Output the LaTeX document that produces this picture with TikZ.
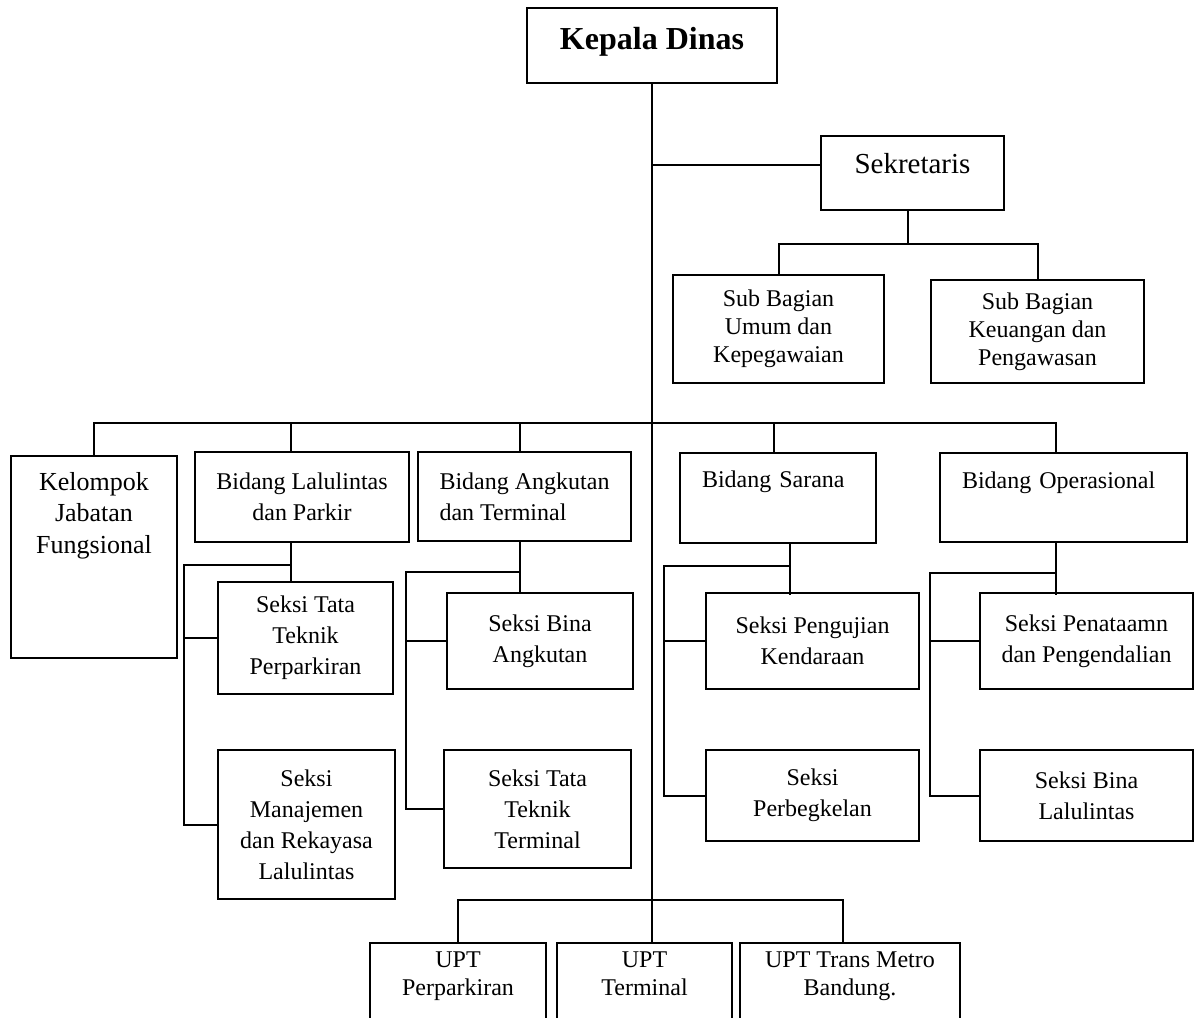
\documentclass[tikz,border=0pt]{standalone}
\usepackage{fontspec}
\setmainfont{Liberation Serif}
\usetikzlibrary{calc}

\tikzset{
  unit/.style={draw,line width=1pt,rectangle,inner sep=0pt,align=center,font=\fontsize{12}{15.5}\selectfont},
  link/.style={line width=1pt},
}

\begin{document}
\begin{tikzpicture}[x=0.5pt,y=-0.5pt]
  \useasboundingbox(0,0) rectangle (1195,1018);
  \clip(0,0) rectangle (1195,1018);
  % head and secretary
  \node[unit,anchor=north,minimum width=125pt,text height=20.5pt,text depth=17pt,font=\fontsize{16}{19}\selectfont\bfseries](kadis) at(652,7){Kepala Dinas};
  \node[unit,anchor=north,minimum width=91.5pt,text height=18.75pt,text depth=18.25pt,font=\fontsize{14.5}{17}\selectfont](sekre) at(912.5,135){Sekretaris};
  \node[unit,minimum width=105.5pt,minimum height=54pt,font=\fontsize{12}{14}\selectfont](subum) at(778.5,329){Sub Bagian\\Umum dan\\Kepegawaian};
  \node[unit,minimum width=106.5pt,minimum height=51.5pt,font=\fontsize{12}{14}\selectfont](subkeu) at(1037.5,331.5){Sub Bagian\\Keuangan dan\\Pengawasan};
  % bidang row
  \node[unit,anchor=north,minimum width=83pt,text height=48.5pt,text depth=52.5pt,font=\fontsize{13}{15.75}\selectfont](kjf) at(94,455){Kelompok\\Jabatan\\Fungsional};
  \node[unit,minimum width=107pt,minimum height=45pt](blp) at(302,497){Bidang Lalulintas\\dan Parkir};
  \node[unit,align=left,minimum width=106.5pt,minimum height=44.5pt](bat) at(524.5,496.5){Bidang Angkutan\\dan Terminal};
  \node[unit,align=left,anchor=north,inner xsep=11pt,text width=76pt,text height=17pt,text depth=28pt](bs) at(778,452){Bidang Sarana};
  \node[unit,align=left,anchor=north,inner xsep=11pt,text width=101.5pt,text height=17.5pt,text depth=27pt](bo) at(1063.5,452){Bidang Operasional};
  % seksi boxes
  \node[unit,minimum width=87.5pt,minimum height=56pt](sttp) at(305.5,638){Seksi Tata\\Teknik\\Perparkiran};
  \node[unit,minimum width=88.5pt,minimum height=74.5pt](smr) at(306.5,824.5){Seksi\\Manajemen\\dan Rekayasa\\Lalulintas};
  \node[unit,minimum width=93pt,minimum height=48pt](sba) at(540,641){Seksi Bina\\Angkutan};
  \node[unit,minimum width=93.5pt,minimum height=59pt](sttt) at(537.5,809){Seksi Tata\\Teknik\\Terminal};
  \node[unit,minimum width=106.5pt,minimum height=48pt](spk) at(812.5,641){Seksi Pengujian\\Kendaraan};
  \node[unit,minimum width=106.5pt,minimum height=45.5pt](spb) at(812.5,795.5){Seksi\\Perbegkelan};
  \node[unit,minimum width=106.5pt,minimum height=48pt](spp) at(1086.5,641){Seksi Penataamn\\dan Pengendalian};
  \node[unit,minimum width=106.5pt,minimum height=45.5pt](sbl) at(1086.5,795.5){Seksi Bina\\Lalulintas};
  % UPT row (cut by the page edge)
  \node[unit,anchor=north,minimum width=88pt,text height=26pt,text depth=50pt,font=\fontsize{12}{14}\selectfont](uptp) at(458,942){UPT\\Perparkiran};
  \node[unit,anchor=north,minimum width=87.5pt,text height=26pt,text depth=50pt,font=\fontsize{12}{14}\selectfont](uptt) at(644.5,942){UPT\\Terminal};
  \node[unit,anchor=north,minimum width=110pt,text height=26pt,text depth=50pt,font=\fontsize{12}{14}\selectfont](uptm) at(850,942){UPT Trans Metro\\Bandung.};
  % main lines
  \coordinate(bar) at(652,423);
  \coordinate(uptbar) at(652,900);
  \draw[link](kadis.south)--(kadis.south |- uptt.north);
  \draw[link]([yshift=4pt]sekre.west)--++(-169,0);
  \draw[link]([xshift=-2.25pt]sekre.south)--++(0,33);
  \draw[link](subum.north) |- ([xshift=-2.25pt,yshift=-16.5pt]sekre.south) -| (subkeu.north);
  \draw[link](kjf.north) |- (bar) -| ([xshift=-3.75pt]bo.north);
  \draw[link]([xshift=-5.5pt]blp.north)--++(0,-29);
  \draw[link]([xshift=-2.25pt]bat.north)--++(0,-29);
  \draw[link]([xshift=-2pt]bs.north)--++(0,-29);
  % Lalulintas dan Parkir
  \draw[link]([xshift=-5.5pt]blp.south)--++(0,40);
  \draw[link]([xshift=-5.5pt]blp.south)++(0,22) -| ([xshift=-16.5pt]smr.west)--(smr.west);
  \draw[link](sttp.west)--++(-33,0);
  % Angkutan dan Terminal
  \draw[link]([xshift=-2.25pt]bat.south)--++(0,52);
  \draw[link]([xshift=-2.25pt]bat.south)++(0,30) -| ([xshift=-18.5pt]sttt.west)--(sttt.west);
  \draw[link](sba.west)--++(-40,0);
  % Sarana
  \draw[link]([xshift=6pt]bs.south)--++(0,51);
  \draw[link]([xshift=6pt]bs.south)++(0,22) -| ([xshift=-20.5pt]spb.west)--(spb.west);
  \draw[link](spk.west)--++(-41,0);
  % Operasional
  \draw[link]([xshift=-3.75pt]bo.south)--++(0,52);
  \draw[link]([xshift=-3.75pt]bo.south)++(0,30) -| ([xshift=-24.5pt]sbl.west)--(sbl.west);
  \draw[link](spp.west)--++(-49,0);
  % UPT
  \draw[link](uptp.north) |- (uptbar) -| ([xshift=-3.5pt]uptm.north);
\end{tikzpicture}
\end{document}
